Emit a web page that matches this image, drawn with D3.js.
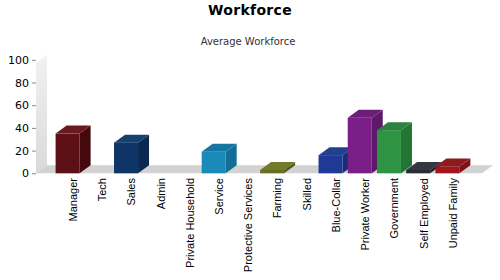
<!DOCTYPE html>
<html>
<head>
<meta charset="utf-8">
<script src="https://cdn.jsdelivr.net/npm/d3@7"></script>
<style>
  body { margin: 0; background: #fff; }
  svg { display: block; font-family: "DejaVu Sans", sans-serif; }
</style>
</head>
<body>
<svg width="500" height="280"></svg>
<script>
// categories and average workforce values
const categories = ["Manager", "Tech", "Sales", "Admin", "Private Household", "Service",
  "Protective Services", "Farming", "Skilled", "Blue-Collar", "Private Worker",
  "Government", "Self Employed", "Unpaid Family"]
const values = [35, 0, 27, 0, 0, 19, 0, 3, 0, 16, 49, 38, 3, 6]
const yTicks = [0, 20, 40, 60, 80, 100]
// front / side / top shades per bar
const colors = [
  ["#5c0f14", "#44090d", "#6a1a1f"],
  ["#444", "#333", "#555"],
  ["#0f3566", "#0b2850", "#163f72"],
  ["#444", "#333", "#555"],
  ["#444", "#333", "#555"],
  ["#1a8ab8", "#136e96", "#1774a2"],
  ["#444", "#333", "#555"],
  ["#6b7020", "#555a18", "#737a2a"],
  ["#444", "#333", "#555"],
  ["#1f3a96", "#182e78", "#24408c"],
  ["#7a1f88", "#5e1869", "#6c1c7a"],
  ["#2e9444", "#237536", "#2b8241"],
  ["#2a2c33", "#1f2026", "#363840"],
  ["#a0161c", "#7f1116", "#8c1a1f"]
]

const data = categories.map((c, i) => ({ cat: c, value: values[i], col: colors[i] }))

const svg = d3.select("svg")
const dx = 11, dy = -8

const x = d3.scaleBand().domain(categories).range([58.5, 467.5])
const y = d3.scaleLinear().domain([0, 100]).range([173.3, 59.8])

const defs = svg.append("defs")
const grad = defs.append("linearGradient").attr("id", "wall")
  .attr("x1", 0).attr("y1", 0).attr("x2", 0).attr("y2", 1)
grad.append("stop").attr("offset", "0%").attr("stop-color", "#f2f2f2")
grad.append("stop").attr("offset", "100%").attr("stop-color", "#d9d9d9")

// title
svg.append("text").attr("x", 250).attr("y", 15).attr("text-anchor", "middle")
  .style("font-size", "14px").style("font-weight", "bold").style("fill", "#000")
  .style("letter-spacing", "0.3px")
  .text("Workforce")
svg.append("text").attr("x", 248).attr("y", 45).attr("text-anchor", "middle")
  .style("font-size", "10px").style("fill", "#333")
  .text("Average Workforce")

// back wall (left side) and floor
const wx = 36
svg.append("path")
  .attr("d", `M${wx},${y(0)} L${wx},${y(100) + 3} L${wx + dx},${y(100) + 3 + dy} L${wx + dx},${y(0) + dy} Z`)
  .attr("fill", "url(#wall)")
const fx1 = 482
svg.append("path")
  .attr("d", `M${wx},${y(0)} L${fx1},${y(0)} L${fx1 + dx},${y(0) + dy} L${wx + dx},${y(0) + dy} Z`)
  .attr("fill", "#d2d2d2")

// y axis
const yAxis = svg.append("g").attr("transform", `translate(${wx},0)`)
  .call(d3.axisLeft(y).tickValues(yTicks).tickSize(4).tickPadding(3))
yAxis.select(".domain").remove()
yAxis.selectAll(".tick line").attr("stroke", "#888")
yAxis.selectAll(".tick text").style("font-size", "11px").style("fill", "#000")
  .style("font-family", "DejaVu Sans, sans-serif")

// bars
const fw = 24
const bars = svg.append("g").selectAll("g").data(data.filter(d => d.value > 0)).enter().append("g")
bars.each(function (d) {
  const g = d3.select(this)
  const x0 = x(d.cat) + x.bandwidth() / 2 - (fw + dx) / 2
  const yt = y(d.value), yb = y(0)
  g.append("path")
    .attr("d", `M${x0 + fw},${yb} L${x0 + fw + dx},${yb + dy} L${x0 + fw + dx},${yt + dy} L${x0 + fw},${yt} Z`)
    .attr("fill", d.col[1])
  g.append("path")
    .attr("d", `M${x0},${yt} L${x0 + dx},${yt + dy} L${x0 + fw + dx},${yt + dy} L${x0 + fw},${yt} Z`)
    .attr("fill", d.col[2])
  g.append("rect").attr("x", x0).attr("y", yt).attr("width", fw).attr("height", yb - yt)
    .attr("fill", d.col[0])
})

// category labels
svg.append("g").selectAll("text").data(categories).enter().append("text")
  .attr("transform", d => `translate(${x(d) + x.bandwidth() / 2},178) rotate(-90)`)
  .attr("text-anchor", "end").attr("dy", "0.35em")
  .style("font-family", "Liberation Sans, Arial, sans-serif")
  .style("font-size", "11px").style("fill", "#000")
  .text(d => d)
</script>
</body>
</html>
